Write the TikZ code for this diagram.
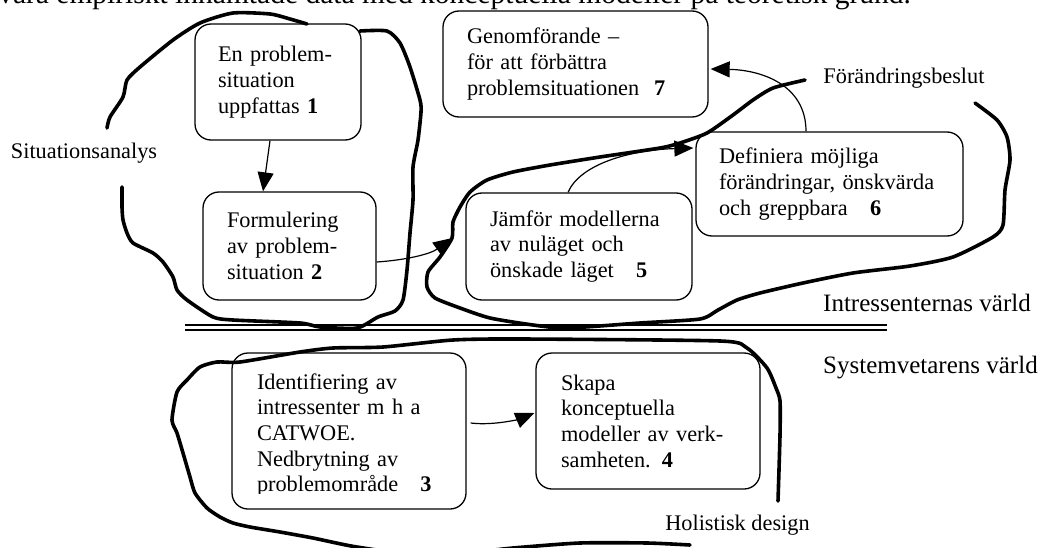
\documentclass[tikz,border=0pt]{standalone}
\usepackage{fontspec}
\setmainfont{Liberation Serif}
\usepackage{tikz}
\usetikzlibrary{arrows.meta,calc,positioning}

\tikzset{
  stepbox/.style={draw, line width=1.3pt, rounded corners=16pt, align=left, inner ysep=4pt},
  flow/.style={line width=1.2pt, -{Triangle[length=19pt,width=16pt]}},
  blob/.style={line width=3.6pt, line cap=round, line join=round},
}

\begin{document}
\begin{tikzpicture}[x=1pt, y=-1pt, font=\fontsize{22.3}{25.7}\selectfont]
            \useasboundingbox (0,0) rectangle (1040,548);
            % Text above the figure (cut off)
            \node[anchor=base east, inner sep=0pt, font=\fontsize{29.5}{32}\selectfont] (toptxt) at (911,3.5)
              {vara empiriskt inhämtade data med konceptuella modeller på teoretisk grund.};
            % Steps
            \node[stepbox, text width=120pt, inner xsep=23pt, minimum height=116pt] (b1) at (278,82)
              {En problem-\\situation\\uppfattas \textbf{1}};
            \node[stepbox, text width=125pt, inner xsep=24pt, minimum height=108pt] (b2) at (289.5,246)
              {Formulering\\av problem-\\situation \textbf{2}};
            \node[stepbox, text width=217pt, inner xsep=24pt, minimum height=106pt] (b7) at (575.5,64)
              {Genomförande --\\för att förbättra\\problemsituationen~~\textbf{7}};
            \node[stepbox, text width=221pt, inner xsep=23pt, minimum height=104pt] (b6) at (829.5,184)
              {Definiera möjliga\\förändringar, önskvärda\\och greppbara~~~\textbf{6}};
            \node[stepbox, text width=178pt, inner xsep=24pt, minimum height=107pt] (b5) at (579,246.5)
              {Jämför modellerna\\av nuläget och\\önskade läget~~~\textbf{5}};
            \node[stepbox, minimum width=234pt, minimum height=156pt] (b3) at (349,431) {};
            \begin{scope}
              \clip (b3.north west) rectangle ($(b3.south east)+(0,-16)$);
              \node[align=left, text width=184pt, inner xsep=25pt] (b3txt) at ($(b3.center)+(0,4)$)
                {Identifiering av\\intressenter m h a\\CATWOE.\\Nedbrytning av\\problemområde~~~\textbf{3}};
            \end{scope}
            \node[stepbox, text width=174pt, inner xsep=25pt, minimum height=136pt] (b4) at (648,421)
              {Skapa\\konceptuella\\modeller av verk-\\samheten. \textbf{4}};
            % Labels
            \node (sit) at (84,153) {Situationsanalys};
            \node (beslut) at (904,78) {Förändringsbeslut};
            \node (holi) at (737.5,525) {Holistisk design};
            \node[anchor=west, inner sep=0pt, font=\fontsize{25}{28}\selectfont] (intv) at (823,303) {Intressenternas värld};
            \node[anchor=west, inner sep=0pt, font=\fontsize{25}{28}\selectfont] (sysv) at (823,368) {Systemvetarens värld};
            % Divider
            \coordinate (dl) at (185,327.5);
            \coordinate (dr) at (887,327.5);
            \draw[double, double distance=3.4pt, line width=1.6pt] (dl) -- (dr);
            % Arrows
            \draw[flow] ($(b1.south)+(-8,0)$) -- ($(b2.north)+(-26.5,0)$);
            \draw[flow] ($(b2.east)+(0,16)$) .. controls +(30,-2) and +(-22,16) .. ($(b5.west)+(-13,-8.5)$);
            \draw[flow] ($(b5.north)+(-11,0)$) .. controls +(12,-28) and +(-64,2) .. ($(b6.west)+(-2,-36)$);
            \draw[flow] ($(b6.north)+(-23.5,0)$) .. controls +(0,-47) and +(50,1) .. ($(b7.east)+(2,5)$);
            \draw[flow] ($(b3.east)+(4,-8)$) .. controls +(25,3) and +(-12,5) .. ($(b4.west)+(-1,-8)$);
            % Situationsanalys
            \draw[blob] plot[smooth, tension=0.4] coordinates {(107,128) (110,117) (123,97) (127,80) (140,67)
              (173,40) (200,23) (233,13) (270,14) (290,19) (307,24)};
            \draw[blob] plot[smooth, tension=0.4] coordinates {(360,31) (387,31) (400,43) (410,67) (420,100)
              (421,112) (418,140) (413,167) (413,200) (410,233) (407,270) (403,300) (395,311) (378,317)
              (357,328) (320,327) (300,323) (233,320) (213,317) (187,300) (177,290) (173,277) (163,262)
              (153,253) (133,243) (127,233) (123,220) (122,207) (122,187)};
            % Förändringsbeslut
            \draw[blob] plot[smooth, tension=0.4] coordinates {(805,80) (773,88) (753,100) (733,115) (707,133)
              (680,143) (660,148) (600,157) (550,165) (513,172) (487,180) (470,192) (460,207) (453,222)
              (452,238) (440,257) (428,272) (427,287) (435,298) (460,308) (490,318) (533,325) (567,328)
              (640,323) (700,319) (718,310) (737,300) (760,293) (803,283) (853,273) (910,266) (953,257)
              (993,237) (1003,225) (1005,190) (1010,160) (1007,137) (997,120) (975,103)};
            % Holistisk design
            \draw[blob] plot[smooth, tension=0.4] coordinates {(778,501) (780,435) (780,401) (776,388) (767,368)
              (747,348) (720,341) (520,339) (453,340) (383,347) (333,348) (300,352) (240,362) (217,362)
              (200,367) (187,380) (177,392) (172,420) (177,433) (183,453) (190,477) (195,493) (207,508)
              (220,517) (233,523) (250,527) (280,532) (313,538) (357,547) (430,556) (513,548) (580,543)
              (647,543) (690,545)};
          \end{tikzpicture}
\end{document}
